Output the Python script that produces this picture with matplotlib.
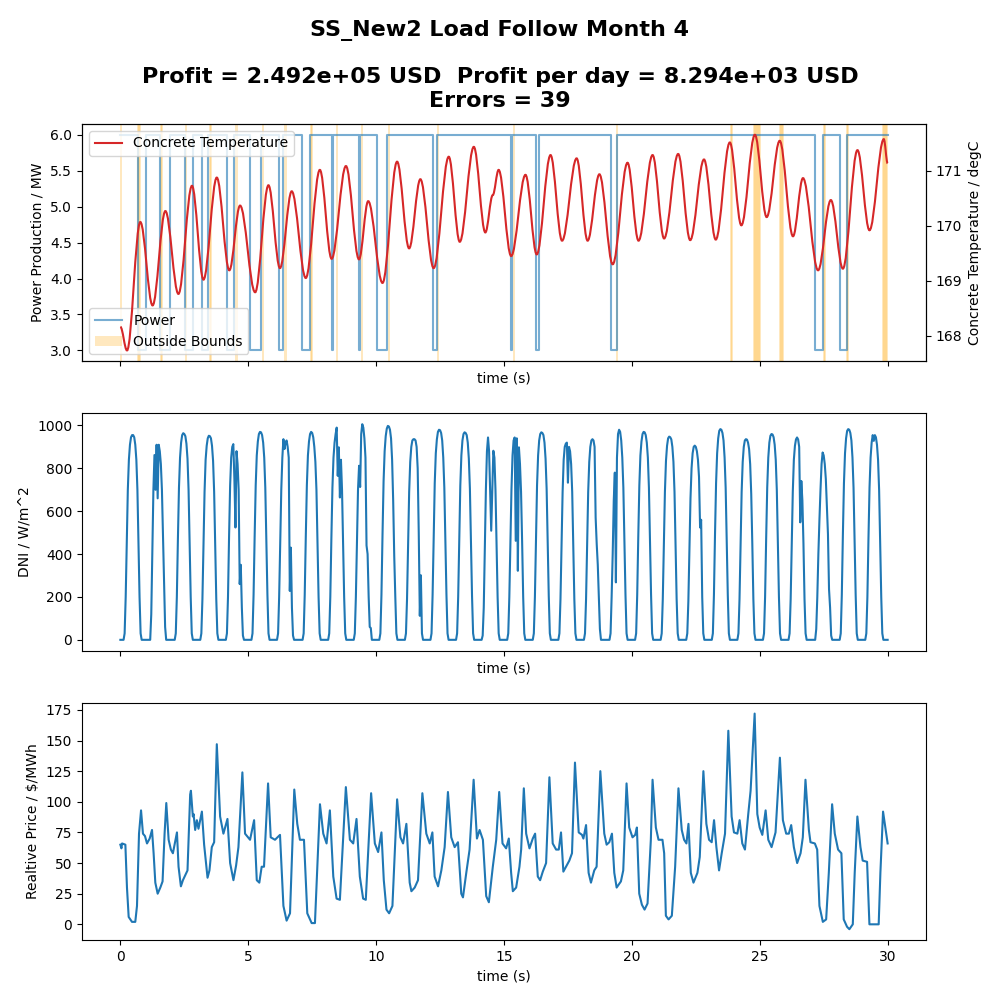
import numpy as np
import matplotlib
matplotlib.use("Agg")
from matplotlib import pyplot as plt
from matplotlib.path import Path
from matplotlib.patches import PathPatch
from matplotlib.lines import Line2D

# --- potencia (MW), escalones: instante de cambio (dias) y valor ---
power_t = [0.0, 0.675, 1.0, 1.56, 1.95, 2.51, 2.84, 3.19, 3.42, 4.18, 4.43, 5.05, 5.5,
           6.2, 6.36, 7.1, 7.41, 8.27, 8.31, 9.33, 9.37, 10.03, 10.42, 12.21, 12.37,
           15.26, 15.33, 16.27, 16.35, 19.2, 19.4, 27.16, 27.47, 28.13, 28.4, 30.0]
power_v = [6, 3, 6, 3, 6, 3, 6, 3, 6, 3, 6, 3, 6,
           3, 6, 3, 6, 3, 6, 3, 6, 3, 6, 3, 6,
           3, 6, 3, 6, 3, 6, 3, 6, 3, 6, 6]

# --- temperatura del hormigon: maximos y minimos (dias, degC) ---
temp_t = [0.0, 0.26, 0.78, 1.26, 1.76, 2.27, 2.80, 3.25, 3.77, 4.26, 4.68, 5.27, 5.79,
          6.24, 6.70, 7.25, 7.80, 8.26, 8.82, 9.33, 9.69, 10.25, 10.82, 11.29, 11.73,
          12.25, 12.84, 13.27, 13.82, 14.27, 14.56, 14.79, 15.28, 15.84, 16.28, 16.82,
          17.27, 17.84, 18.27, 18.73, 19.25, 19.83, 20.26, 20.81, 21.26, 21.81, 22.28,
          22.82, 23.28, 23.83, 24.28, 24.81, 25.27, 25.78, 26.30, 26.69, 27.28, 27.78,
          28.25, 28.82, 29.29, 29.85, 30.0]
temp_v = [168.16, 167.73, 170.07, 168.55, 170.27, 168.76, 170.73, 169.02, 170.88, 169.19,
          170.37, 168.79, 170.74, 169.23, 170.63, 169.05, 171.02, 169.40, 171.09, 169.39,
          170.45, 168.96, 171.17, 169.59, 170.85, 169.23, 171.26, 169.71, 171.44, 169.88,
          170.56, 171.02, 169.45, 170.93, 169.48, 171.29, 169.73, 171.23, 169.73, 170.94,
          169.30, 171.15, 169.73, 171.29, 169.77, 171.31, 169.74, 171.21, 169.75, 171.52,
          170.01, 171.66, 170.16, 171.55, 169.81, 170.87, 169.19, 170.47, 169.22, 171.38,
          169.92, 171.58, 171.14]

# horas fuera de limites (39 errores)
error_hours = [1, 17, 18, 38, 39, 62, 84, 85, 109, 134, 155, 179, 180, 203, 227, 252,
               298, 369, 466, 573, 574, 595, 596, 597, 598, 599, 600, 619, 620, 621, 622,
               660, 661, 682, 683, 716, 717, 718, 719]

# --- DNI (W/m^2), valores horarios de 4h a 19h de cada dia ---
dni_hours = list(range(4, 20))
dni_days = [
    [30, 200, 460, 700, 840, 910, 945, 955, 955, 945, 910, 840, 700, 460, 200, 30],
    [0, 120, 420, 700, 862, 700, 910, 660, 910, 880, 820, 700, 480, 240, 60, 0],
    [30, 200, 470, 710, 850, 920, 955, 964, 960, 950, 915, 845, 700, 460, 200, 30],
    [30, 190, 450, 690, 840, 905, 940, 952, 950, 940, 905, 835, 690, 450, 190, 30],
    [30, 200, 480, 720, 850, 900, 913, 750, 524, 880, 820, 700, 260, 350, 150, 20],
    [30, 210, 480, 720, 860, 925, 960, 970, 968, 955, 920, 850, 710, 470, 210, 30],
    [30, 200, 460, 700, 850, 936, 890, 920, 930, 900, 850, 228, 430, 150, 20, 0],
    [30, 210, 480, 720, 860, 925, 960, 970, 965, 945, 900, 830, 700, 460, 200, 30],
    [30, 200, 470, 710, 850, 920, 960, 990, 765, 898, 664, 840, 700, 460, 200, 30],
    [30, 200, 460, 700, 812, 713, 960, 1006, 990, 940, 850, 440, 400, 200, 60, 55],
    [30, 210, 490, 740, 880, 950, 985, 998, 995, 980, 940, 840, 650, 391, 200, 30],
    [30, 190, 450, 690, 830, 900, 930, 936, 936, 930, 900, 800, 500, 112, 301, 30],
    [30, 210, 480, 730, 870, 935, 970, 980, 978, 965, 930, 850, 710, 470, 210, 30],
    [30, 200, 470, 720, 860, 930, 960, 968, 965, 955, 920, 845, 705, 465, 205, 30],
    [20, 150, 420, 700, 880, 944, 880, 700, 509, 700, 882, 850, 700, 460, 200, 30],
    [30, 200, 460, 700, 860, 930, 944, 462, 940, 322, 898, 820, 690, 460, 200, 30],
    [30, 200, 470, 720, 860, 930, 960, 968, 965, 955, 920, 845, 705, 465, 205, 30],
    [30, 190, 450, 690, 840, 900, 915, 920, 733, 900, 880, 820, 690, 450, 190, 30],
    [30, 190, 450, 690, 830, 900, 930, 936, 930, 900, 570, 447, 350, 200, 50, 0],
    [30, 200, 400, 650, 780, 268, 850, 960, 980, 970, 930, 850, 710, 470, 210, 30],
    [30, 210, 480, 720, 860, 925, 960, 970, 968, 955, 920, 850, 710, 470, 210, 30],
    [30, 190, 450, 690, 835, 905, 940, 948, 945, 935, 900, 830, 690, 450, 190, 30],
    [30, 180, 430, 660, 800, 870, 900, 906, 900, 880, 840, 760, 524, 560, 200, 30],
    [30, 210, 490, 730, 870, 940, 975, 983, 980, 965, 930, 850, 710, 470, 210, 30],
    [30, 190, 450, 690, 830, 900, 930, 936, 934, 920, 890, 820, 680, 450, 190, 30],
    [30, 200, 470, 710, 850, 920, 952, 960, 958, 945, 910, 840, 700, 460, 200, 30],
    [30, 190, 450, 690, 840, 905, 935, 944, 935, 900, 548, 741, 650, 450, 190, 30],
    [0, 50, 200, 400, 560, 700, 820, 874, 860, 820, 750, 620, 493, 236, 150, 20],
    [30, 210, 490, 730, 870, 940, 975, 983, 980, 965, 930, 850, 710, 470, 210, 30],
    [30, 200, 470, 710, 850, 920, 955, 928, 955, 945, 910, 840, 700, 460, 200, 30],
]

# --- precio (hora desde el inicio, $/MWh) ---
price_hour = [0.0, 1.0, 1.6, 4.7, 6.2, 7.8, 10.9, 14.0, 15.6, 17.5, 19.4, 21.2, 23.1,
              25.0, 27.5, 29.7, 31.2, 32.8, 35.0, 37.5, 39.6, 41.5, 43.1, 45.3, 47.4,
              49.3, 53.1, 54.6, 56.8, 58.7, 60.9, 63.0, 65.5, 66.2, 68.0, 68.7, 70.2,
              71.8, 73.3, 76.5, 78.6, 81.8, 83.6, 85.8, 88.0, 90.5, 93.6, 96.7, 100.5,
              103.0, 106.1, 108.6, 110.8, 114.5, 117.0, 121.7, 125.5, 128.0, 130.4,
              132.6, 134.8, 138.6, 141.1, 145.1, 149.8, 153.0, 156.0, 159.2, 163.2,
              166.0, 168.5, 172.3, 175.4, 179.5, 182.6, 187.3, 190.4, 193.5, 196.6,
              199.8, 202.9, 206.0, 211.6, 215.4, 218.5, 221.6, 224.7, 227.8, 230.3,
              235.3, 238.8, 241.9, 245.0, 247.2, 249.7, 252.2, 255.3, 259.7, 262.8,
              265.3, 268.4, 271.5, 273.1, 276.2, 279.3, 283.4, 287.1, 290.3, 292.8,
              294.9, 298.1, 301.2, 304.3, 307.4, 310.5, 313.7, 316.8, 319.9, 321.5,
              324.6, 327.7, 331.5, 334.6, 337.1, 340.2, 343.3, 345.8, 349.5, 352.7,
              355.5, 358.6, 362.0, 364.5, 366.7, 368.3, 371.4, 374.5, 376.1, 378.6,
              380.8, 383.9, 387.0, 389.2, 391.7, 393.9, 396.4, 399.5, 402.6, 405.7,
              408.9, 411.4, 413.5, 415.7, 418.2, 421.3, 423.8, 426.6, 430.1, 433.2,
              434.5, 437.0, 439.4, 441.6, 444.7, 446.9, 450.4, 454.1, 456.3, 458.8,
              461.3, 463.5, 465.7, 469.7, 471.9, 475.0, 477.5, 480.6, 483.1, 484.7,
              486.9, 489.4, 491.9, 494.7, 497.8, 499.4, 502.5, 505.0, 508.7, 510.3,
              511.9, 514.4, 517.5, 520.6, 523.7, 526.8, 529.0, 531.2, 533.1, 535.3,
              537.8, 541.5, 543.7, 547.1, 549.9, 552.4, 554.9, 557.1, 559.3, 561.8,
              564.3, 567.4, 570.5, 573.6, 575.8, 579.0, 581.1, 583.6, 586.1, 589.2,
              591.4, 595.2, 597.7, 599.9, 602.4, 605.5, 608.0, 611.1, 614.8, 618.9,
              621.7, 624.8, 627.3, 629.5, 632.0, 635.1, 638.3, 640.4, 642.9, 646.1,
              647.6, 651.7, 653.9, 656.0, 659.2, 662.3, 664.8, 667.9, 670.4, 673.5,
              676.6, 678.8, 681.9, 684.1, 687.3, 689.1, 691.6, 694.5, 696.6, 700.7,
              702.9, 711.6, 713.2, 715.7, 717.8, 720.0]
price = [65, 62, 66, 65, 30, 6, 2, 2, 15, 74, 93, 74, 72,
         66, 70, 77, 58, 34, 25, 30, 35, 74, 99, 69, 61,
         58, 75, 47, 31, 36, 40, 44, 106, 109, 88, 90, 77,
         85, 78, 92, 65, 38, 44, 63, 67, 147, 88, 74, 86,
         50, 36, 48, 63, 124, 74, 69, 85, 36, 34,
         47, 47, 115, 71, 69, 73, 15, 3, 9, 110,
         82, 69, 69, 9, 1, 1, 98, 74, 66, 93,
         39, 21, 20, 112, 69, 66, 86, 39, 21, 20,
         107, 66, 59, 75, 36, 12, 9, 15, 102, 71,
         66, 82, 34, 27, 30, 36, 107, 74, 66, 75,
         39, 31, 44, 63, 108, 71, 63, 67, 25, 22,
         42, 61, 118, 70, 77, 69, 23, 18, 47, 69,
         108, 66, 62, 70, 42, 27, 30, 47, 61, 111,
         74, 62, 70, 74, 39, 36, 43, 50, 120, 66,
         61, 61, 75, 43, 47, 52, 58, 132, 75, 73,
         70, 81, 42, 34, 44, 47, 125, 74, 65, 67,
         74, 42, 30, 35, 44, 115, 79, 71, 73, 79,
         25, 16, 12, 17, 69, 118, 79, 69, 69, 58,
         7, 4, 7, 47, 111, 77, 69, 66, 82, 42,
         34, 42, 55, 125, 82, 69, 67, 85, 63, 44,
         58, 74, 158, 88, 75, 74, 85, 66, 61, 90,
         109, 172, 90, 79, 73, 93, 69, 63, 75, 136,
         85, 74, 74, 81, 63, 50, 58, 71, 118, 77,
         67, 66, 61, 15, 2, 4, 42, 98, 74, 61,
         58, 4, -2, -4, 0, 42, 88, 63, 52, 51,
         0, 0, 42, 92, 79, 66]

# armado de las series de DNI (ceros de noche)
dni_t = [0.0]
dni_v = [0]
for dia, fila in enumerate(dni_days):
    dni_t += [dia + 3 / 24] + [dia + h / 24 for h in dni_hours] + [dia + 20 / 24]
    dni_v += [0] + fila + [0]
dni_t.append(30.0)
dni_v.append(0)

price_t = np.array(price_hour) / 24

fig, axs = plt.subplots(3, 1, figsize=(10, 10), sharex=True)
fig.subplots_adjust(left=0.082, right=0.926, bottom=0.06, top=0.876, hspace=0.22)
fig.suptitle("SS_New2 Load Follow Month 4\n\n"
             "Profit = 2.492e+05 USD  Profit per day = 8.294e+03 USD\nErrors = 39",
             y=0.98, va="top", fontsize=16, fontweight="bold")

ax = axs[0]
ax.plot(power_t, power_v, drawstyle="steps-post", color="tab:blue", alpha=0.6,
        label="Power")
for i, h in enumerate(error_hours):
    ax.axvspan((h - 1) / 24, (h + 1) / 24, color="orange", alpha=0.25, lw=0,
               label="Outside Bounds" if i == 0 else None)
ax.set_ylabel("Power Production / MW")
ax.set_xlabel("time (s)")
ax.legend(loc="lower left")

# temperatura con curvas suaves entre extremos
ax2 = ax.twinx()
verts = [(temp_t[0], temp_v[0])]
codes = [Path.MOVETO]
for i in range(1, len(temp_t)):
    dt = temp_t[i] - temp_t[i - 1]
    verts += [(temp_t[i - 1] + 0.36 * dt, temp_v[i - 1]),
              (temp_t[i] - 0.36 * dt, temp_v[i]),
              (temp_t[i], temp_v[i])]
    codes += [Path.CURVE4] * 3
ax2.add_patch(PathPatch(Path(verts, codes), fill=False, edgecolor="tab:red", lw=1.5))
ax2.autoscale_view()
ax2.set_ylabel("Concrete Temperature / degC")
ax2.legend(handles=[Line2D([], [], color="tab:red", lw=1.5, label="Concrete Temperature")],
           loc="upper left")

axs[1].plot(dni_t, dni_v)
axs[1].set_ylabel("DNI / W/m^2")
axs[1].set_xlabel("time (s)")

axs[2].plot(price_t, price)
axs[2].set_ylabel("Realtive Price / $/MWh")
axs[2].set_xlabel("time (s)")

fig.savefig("out.png", dpi=100)
